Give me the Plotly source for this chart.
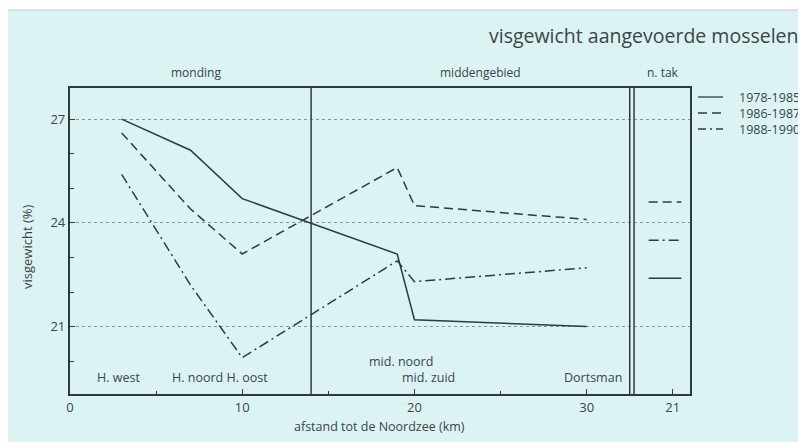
import plotly.graph_objects as go

# ---- data ----
distance_km = [3, 7, 10, 19, 20, 30]
series_names = ["1978-1985", "1986-1987", "1988-1990"]
weight_1978_1985 = [27.0, 26.1, 24.7, 23.1, 21.2, 21.0]
weight_1986_1987 = [26.6, 24.4, 23.1, 25.6, 24.5, 24.1]
weight_1988_1990 = [25.4, 22.2, 20.1, 22.9, 22.3, 22.7]
ntak_values = [22.4, 24.6, 23.5]          # n. tak (21 km), same series order
x_tickvals = [0, 10, 20, 30, 35]
x_ticktext = ["0", "10", "20", "30", "21"]
site_labels = ["H. west", "H. noord H. oost", "mid. noord", "mid. zuid", "Dortsman"]
section_labels = ["monding", "middengebied", "n. tak"]

# ---- styling ----
OFF = 8                      # page body margin in the browser
W, H = 806 - OFF, 442 - OFF
L, R, T, B = 70 - OFF, 690 - OFF, 88 - OFF, 394 - OFF
LINE = "#303a3a"
TXT = "#3a4545"
FONT = "Open Sans"
BG = "#dcf3f4"
dashes = ["solid", "9px,5px", "10px,4px,2px,4px"]
legend_dashes = ["solid", "9px,5px", "8px,4px,2px,4px"]
all_series = [weight_1978_1985, weight_1986_1987, weight_1988_1990]


def px(xp):
    """reference-image x pixel -> paper coordinate"""
    return (xp - OFF - L) / (R - L)


def py(yp):
    """reference-image y pixel -> paper coordinate"""
    return (B - (yp - OFF)) / (B - T)


fig = go.Figure()
for name, vals, d in zip(series_names, all_series, dashes):
    fig.add_trace(go.Scatter(x=distance_km, y=vals, mode="lines", name=name,
                             line=dict(color=LINE, width=1.5, dash=d),
                             showlegend=False, hoverinfo="skip"))
# n. tak short segments
for name, v, d in zip(series_names, ntak_values, dashes):
    fig.add_trace(go.Scatter(x=[33.6, 35.5], y=[v, v], mode="lines",
                             line=dict(color=LINE, width=1.5, dash=d),
                             showlegend=False, hoverinfo="skip"))

shapes = [
    # thin white strip at top so the panel starts a little lower
    dict(type="rect", xref="paper", yref="paper", x0=px(0), x1=px(820),
         y0=py(10), y1=py(0), fillcolor="white", line=dict(width=0),
         layer="below"),
    dict(type="line", xref="paper", yref="paper", x0=px(8), x1=px(820),
         y0=py(10), y1=py(10), line=dict(color="#c4cccc", width=1),
         layer="below"),
    # section separators
    dict(type="line", xref="x", yref="paper", x0=14, x1=14, y0=0, y1=1,
         line=dict(color=LINE, width=1.5)),
    dict(type="line", xref="x", yref="paper", x0=32.5, x1=32.5, y0=0, y1=1,
         line=dict(color=LINE, width=1.5)),
    dict(type="line", xref="x", yref="paper", x0=32.75, x1=32.75, y0=0, y1=1,
         line=dict(color=LINE, width=1.5)),
]
annotations = []
# legend
leg_y = [97, 113, 129]
for name, d, yy in zip(series_names, legend_dashes, leg_y):
    shapes.append(dict(type="line", xref="paper", yref="paper",
                       x0=px(698), x1=px(723), y0=py(yy), y1=py(yy),
                       line=dict(color=LINE, width=1.3, dash=d)))
    annotations.append(dict(xref="paper", yref="paper", x=px(737), y=py(yy),
                            text=name, showarrow=False, xanchor="left",
                            yanchor="middle",
                            font=dict(family=FONT, size=12.5, color=TXT)))

# title
annotations.append(dict(xref="paper", yref="paper", x=px(801), y=py(36),
                        text="visgewicht aangevoerde mosselen", showarrow=False,
                        xanchor="right", yanchor="middle",
                        font=dict(family=FONT, size=19.5, color=TXT)))
# section labels
for t, xc in zip(section_labels, [196, 480, 663]):
    annotations.append(dict(xref="paper", yref="paper", x=px(xc), y=py(73),
                            text=t, showarrow=False, xanchor="center",
                            yanchor="middle",
                            font=dict(family=FONT, size=12, color=TXT)))
# site labels
for t, xc, yc in zip(site_labels, [118, 220, 401, 428, 593],
                     [377, 377, 361, 377, 377]):
    annotations.append(dict(xref="paper", yref="paper", x=px(xc), y=py(yc),
                            text=t, showarrow=False, xanchor="center",
                            yanchor="middle",
                            font=dict(family=FONT, size=12.5, color=TXT)))
# axis titles
annotations.append(dict(xref="paper", yref="paper", x=px(379), y=py(426),
                        text="afstand tot de Noordzee (km)", showarrow=False,
                        xanchor="center", yanchor="middle",
                        font=dict(family=FONT, size=12.5, color=TXT)))
annotations.append(dict(xref="paper", yref="paper", x=px(27), y=py(247),
                        text="visgewicht (%)", showarrow=False, textangle=-90,
                        xanchor="center", yanchor="middle",
                        font=dict(family=FONT, size=13, color=TXT)))

fig.update_layout(
    width=W, height=H,
    margin=dict(l=L, r=W - R, t=T, b=H - B, pad=0),
    paper_bgcolor=BG, plot_bgcolor="rgba(0,0,0,0)",
    shapes=shapes, annotations=annotations,
    font=dict(family=FONT, color=TXT, size=13),
)
fig.update_xaxes(range=[0, 36], tickvals=x_tickvals, ticktext=x_ticktext,
                 showgrid=False, zeroline=False, showline=True, mirror=True,
                 linecolor=LINE, linewidth=2.2, ticks="inside", ticklen=5,
                 tickwidth=1.2, tickcolor=LINE,
                 tickfont=dict(family=FONT, size=13, color=TXT),
                 minor=dict(tickvals=[5, 15, 25], ticks="inside", ticklen=3,
                            tickwidth=1.2, tickcolor=LINE, showgrid=False))
fig.update_yaxes(range=[19.05, 27.9], tick0=0, dtick=3,
                 showgrid=True, gridcolor="#8a9696", gridwidth=1, griddash="dot",
                 zeroline=False, showline=True, mirror=True,
                 linecolor=LINE, linewidth=2.2, ticks="inside", ticklen=5,
                 tickwidth=1.2, tickcolor=LINE,
                 tickfont=dict(family=FONT, size=13, color=TXT),
                 minor=dict(dtick=1, ticks="inside", ticklen=4, tickwidth=1.2,
                            tickcolor=LINE, showgrid=False))

fig.write_html("out.html")
